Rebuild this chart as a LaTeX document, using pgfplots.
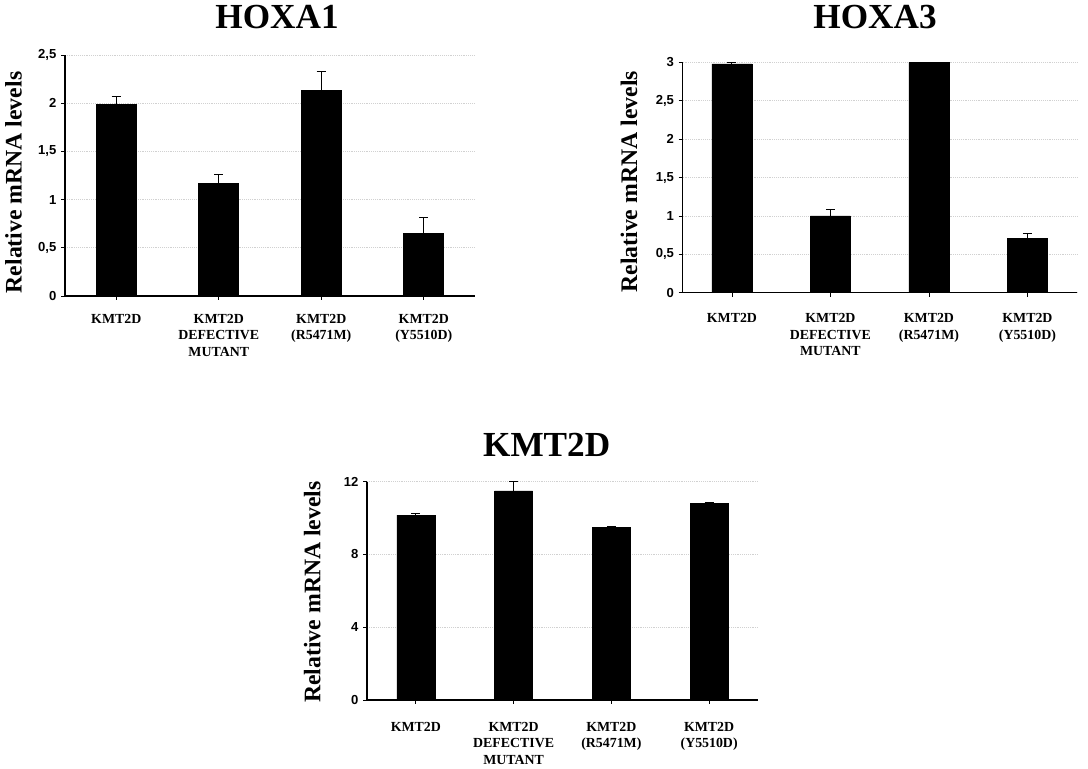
\documentclass[border=0pt]{standalone}
\usepackage{fontspec}
\setmainfont{Liberation Serif}
\newfontfamily\arialfont{Liberation Sans}
\usepackage{pgfplots}
\pgfplotsset{compat=1.18}
\pgfplotsset{
 panel/.style={
  scale only axis, anchor=south west,
  ybar, bar width=30pt, bar shift=0pt,
  xmin=-0.5, xmax=3.5, ymin=0,
  axis x line*=bottom, axis y line*=left,
  axis line style={line width=0.8pt, black},
  xtick={0,1,2,3},
  tick align=outside, major tick length=3pt,
  tick style={black, line width=0.6pt},
  ymajorgrids, grid style={densely dotted, black!18, line width=0.6pt},
  xticklabel style={font=\fontsize{10.4}{12.4}\selectfont\bfseries, align=center, anchor=north},
  yticklabel style={font=\arialfont\bfseries\fontsize{9.8}{11}\selectfont},
  /pgf/number format/assume math mode=true,
  /pgf/number format/use comma,
  ylabel={Relative mRNA levels},
  ylabel style={font=\fontsize{17.8}{20}\selectfont\bfseries, anchor=center},
  xticklabels={KMT2D,{KMT2D\\DEFECTIVE\\MUTANT},{KMT2D\\(R5471M)},{KMT2D\\(Y5510D)}},
  clip=false,
 },
 bars/.style={fill=black, draw=black,
  error bars/.cd, y dir=plus, y explicit,
  error bar style={line width=0.8pt, black},
  error mark options={rotate=90, mark size=3.4pt, line width=0.8pt, black}},
}
\begin{document}
\begin{tikzpicture}
\path (0,0) rectangle (816pt,575.25pt);
% HOXA1
\begin{axis}[panel, at={(48.75pt,353.25pt)}, width=307.5pt, height=180.75pt,
  ymax=2.5, ytick={0,0.5,1,1.5,2,2.5},
  xticklabel style={yshift=-7pt},
  ylabel style={at={(axis description cs:-0.1256,0.471)}}]
\addplot[bars] coordinates {(0,1.99) +- (0,0.08) (1,1.17) +- (0,0.09) (2,2.13) +- (0,0.20) (3,0.65) +- (0,0.16)};
\end{axis}
% HOXA3
\begin{axis}[panel, at={(512pt,355.7pt)}, width=295.5pt, height=172.8pt,
  ymax=3, ytick={0,0.5,1,1.5,2,2.5,3},
  xticklabel style={yshift=-9pt},
  ylabel style={at={(axis description cs:-0.136,0.481)}}]
\addplot[bars] coordinates {(0,2.98) +- (0,0.015) (1,1.0) +- (0,0.08) (2,3.0) +- (0,0.0) (3,0.71) +- (0,0.06)};
\end{axis}
% KMT2D
\begin{axis}[panel, at={(275.25pt,50.25pt)}, width=293.25pt, height=163.7pt, bar width=28.5pt,
  ymax=12, ytick={0,4,8,12},
  xticklabel style={yshift=-10pt},
  ylabel style={at={(axis description cs:-0.14,0.495)}}]
\addplot[bars] coordinates {(0,10.17) +- (0,0.09) (1,11.5) +- (0,0.5) (2,9.49) +- (0,0.04) (3,10.79) +- (0,0.04)};
\end{axis}
\node[font=\fontsize{26.4}{30}\selectfont\bfseries, inner sep=0pt] at (207.75pt,562.7pt) {HOXA1};
\node[font=\fontsize{26.4}{30}\selectfont\bfseries, inner sep=0pt] at (656.25pt,562.7pt) {HOXA3};
\node[font=\fontsize{26.4}{30}\selectfont\bfseries, inner sep=0pt] at (410pt,241.5pt) {KMT2D};
\end{tikzpicture}
\end{document}
